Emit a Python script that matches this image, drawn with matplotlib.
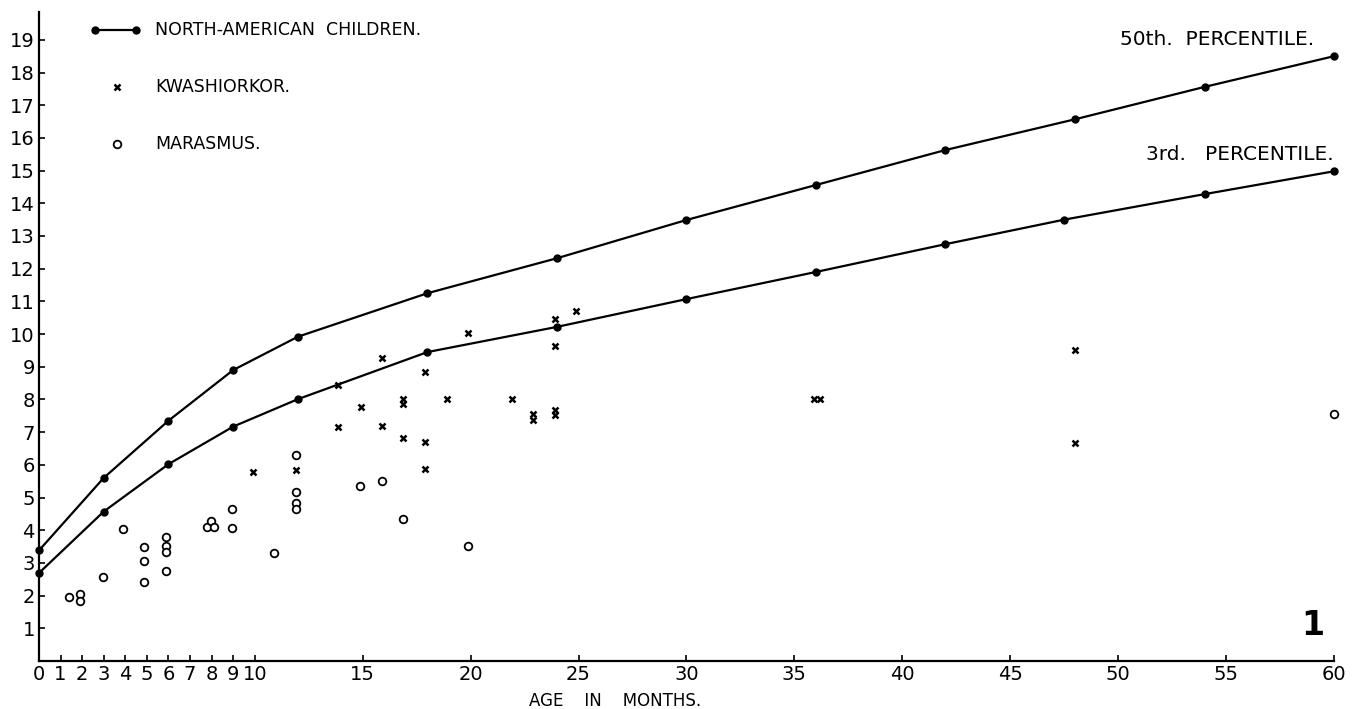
"""
Weight for age: North-American percentiles vs kwashiorkor / marasmus cases
"""

import matplotlib.pyplot as plt

# percentile curves (age in months, weight in kg)
p50_age = [0, 3, 6, 9, 12, 18, 24, 30, 36, 42, 48, 54, 60]
p50_wt = [3.38, 5.6, 7.35, 8.9, 9.92, 11.25, 12.32, 13.49, 14.56, 15.63, 16.57, 17.56, 18.5]
p3_age = [0, 3, 6, 9, 12, 18, 24, 30, 36, 42, 47.5, 54, 60]
p3_wt = [2.69, 4.57, 6.02, 7.17, 8.01, 9.45, 10.22, 11.07, 11.9, 12.75, 13.5, 14.28, 14.98]

# kwashiorkor cases
kw_age = [9.9, 11.9, 13.85, 13.85, 14.9, 15.9, 15.9, 16.85, 16.85, 16.85, 17.9, 17.9, 17.9,
          18.9, 19.9, 21.9, 22.9, 22.9, 23.9, 23.9, 23.9, 23.9, 24.9, 35.9, 36.2, 48, 48]
kw_wt = [5.79, 5.84, 8.44, 7.15, 7.76, 9.27, 7.19, 8.0, 7.85, 6.81, 8.84, 6.69, 5.87,
         8.0, 10.02, 8.0, 7.55, 7.37, 10.45, 9.64, 7.68, 7.52, 10.7, 8.0, 8.0, 9.51, 6.66]

# marasmus cases
ma_age = [1.4, 1.9, 1.9, 2.95, 3.9, 4.87, 4.87, 4.87, 5.87, 5.87, 5.87, 5.87,
          7.8, 7.95, 8.1, 8.96, 8.96, 10.9, 11.9, 11.9, 11.9, 11.9, 14.87, 15.9, 16.85, 19.9, 60]
ma_wt = [1.95, 2.04, 1.85, 2.58, 4.03, 3.5, 3.07, 2.43, 3.8, 3.53, 3.34, 2.75,
         4.1, 4.27, 4.1, 4.64, 4.07, 3.3, 6.31, 5.17, 4.82, 4.65, 5.36, 5.5, 4.33, 3.52, 7.54]

x_ticks = list(range(0, 11)) + list(range(15, 61, 5))
x_labels = ['0', '1', '2', '3', '4', '5', '6', '7', '8', '9', '10',
            '15', '20', '25', '30', '35', '40', '45', '50', '55', '60']
y_ticks = list(range(1, 20))

plt.rcParams['font.family'] = ['DejaVu Sans']

fig = plt.figure(figsize=(13.52, 7.09), dpi=100)
ax = fig.add_axes([0.0288, 0.0677, 0.9579, 0.9153])

ax.plot(p50_age, p50_wt, color='black', lw=1.6, marker='o', ms=5, clip_on=False)
ax.plot(p3_age, p3_wt, color='black', lw=1.6, marker='o', ms=5, clip_on=False)
ax.plot(kw_age, kw_wt, ls='none', marker='x', ms=4, mew=1.8, color='black', clip_on=False)
ax.plot(ma_age, ma_wt, ls='none', marker='o', ms=5.5, mfc='white', mec='black', mew=1.3,
        clip_on=False)

ax.set_xlim(0, 60)
ax.set_ylim(0, 19.85)
ax.set_xticks(x_ticks)
ax.set_xticklabels(x_labels)
ax.set_yticks(y_ticks)
ax.tick_params(direction='in', length=4, width=1.2, labelsize=14, pad=3)
for s in ['top', 'right']:
    ax.spines[s].set_visible(False)
for s in ['left', 'bottom']:
    ax.spines[s].set_linewidth(1.6)

ax.text(0.445, -0.062, 'AGE    IN    MONTHS.', transform=ax.transAxes,
        fontsize=12, ha='center', va='center')

# legend drawn by hand
ax.plot([2.6, 4.5], [19.3, 19.3], color='black', lw=1.6, marker='o', ms=5)
ax.text(5.4, 19.3, 'NORTH-AMERICAN  CHILDREN.', fontsize=12.5, va='center')
ax.plot([3.6], [17.55], ls='none', marker='x', ms=4, mew=1.8, color='black')
ax.text(5.4, 17.55, 'KWASHIORKOR.', fontsize=12.5, va='center')
ax.plot([3.6], [15.8], ls='none', marker='o', ms=5.5, mfc='white', mec='black', mew=1.3)
ax.text(5.4, 15.8, 'MARASMUS.', fontsize=12.5, va='center')

ax.text(59.1, 19.0, '50th.  PERCENTILE.', fontsize=14.5, ha='right', va='center')
ax.text(60.0, 15.5, '3rd.   PERCENTILE.', fontsize=14.5, ha='right', va='center')
ax.text(59.55, 1.1, '1', fontsize=24, fontweight='bold', ha='right', va='center')

fig.savefig('out.png', dpi=100)
